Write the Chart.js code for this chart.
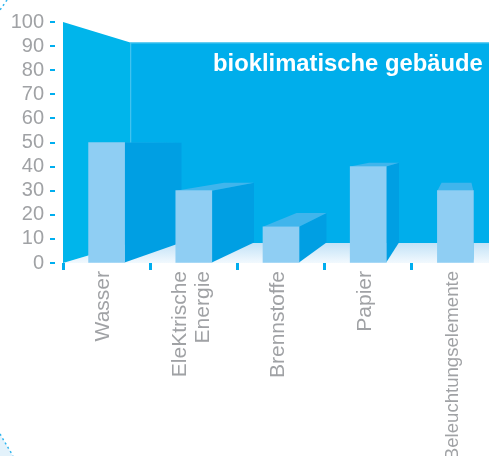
<!DOCTYPE html>
<html>
<head>
<meta charset="utf-8">
<script src="https://cdn.jsdelivr.net/npm/chart.js@4"></script>
<style>
  html, body { margin: 0; padding: 0; background: #fff; overflow: hidden; }
  canvas { display: block; }
</style>
</head>
<body>
<canvas id="chart" width="499" height="456"></canvas>
<script>
var categories = ['Wasser', ['EleKtrische', 'Energie'], 'Brennstoffe', 'Papier', 'Beleuchtungselemente'];
var values = [50, 30, 15, 40, 30];
var labelSizes = [21, 21, 21, 21, 18.6];
var titleText = 'bioklimatische gebäude';

// the picture is a real perspective: every back edge runs toward this point
var vanishX = 462, vanishY = 144, depth = 0.1686;

function back(x, y) {
    return [x + depth * (vanishX - x), y + depth * (vanishY - y)];
}

function poly(ctx, pts, fill) {
    ctx.beginPath();
    pts.forEach(function (p, i) {
        if (i == 0) ctx.moveTo(p[0], p[1]); else ctx.lineTo(p[0], p[1]);
    });
    ctx.closePath();
    ctx.fillStyle = fill;
    ctx.fill();
}

var room = {
    id: 'room',
    beforeDraw: function (chart) {
        // two line rotated labels sit off centre, pull them back onto their tick
        chart.scales.x.getLabelItems().forEach(function (item) {
            if (Array.isArray(item.label) && !item.moved) {
                item.options.translation[0] -= 11;
                item.moved = true;
            }
        });
    },
    beforeDatasetsDraw: function (chart) {
        var ctx = chart.ctx, a = chart.chartArea;
        var tl = back(a.left, a.top), bl = back(a.left, a.bottom);
        ctx.save();

        // floor
        var floor = ctx.createLinearGradient(0, bl[1], 0, a.bottom);
        floor.addColorStop(0, '#c2e2f7');
        floor.addColorStop(1, '#f2f9fe');
        poly(ctx, [[a.left, a.bottom], bl, [chart.width, bl[1]], [chart.width, a.bottom]], floor);

        // back and left wall
        poly(ctx, [tl, [chart.width, tl[1]], [chart.width, bl[1]], bl], '#00aeeb');
        poly(ctx, [[a.left, a.top], tl, bl, [a.left, a.bottom]], '#00b5eb');
        ctx.strokeStyle = '#45c3ef';
        ctx.lineWidth = 1;
        ctx.beginPath();
        ctx.moveTo(tl[0] + 0.5, tl[1]);
        ctx.lineTo(bl[0] + 0.5, bl[1]);
        ctx.moveTo(tl[0], tl[1] + 0.5);
        ctx.lineTo(chart.width, tl[1] + 0.5);
        ctx.stroke();

        // title on the back wall
        ctx.fillStyle = '#ffffff';
        ctx.font = 'bold 23.8px "Liberation Sans"';
        ctx.textAlign = 'left';
        ctx.textBaseline = 'alphabetic';
        ctx.fillText(titleText, 213, 71);

        // depth faces of the bars, the fronts come from the library afterwards
        chart.getDatasetMeta(0).data.forEach(function (bar) {
            var l = bar.x - bar.width / 2, r = bar.x + bar.width / 2;
            var tlb = back(l, bar.y), trb = back(r, bar.y), brb = back(r, bar.base);
            poly(ctx, [[r, bar.y], trb, brb, [r, bar.base]], '#009fe3');
            poly(ctx, [[l, bar.y], tlb, trb, [r, bar.y]], '#40b5ec');
        });

        // y tick marks stand off from the wall
        var y = chart.scales.y;
        ctx.fillStyle = '#00aeef';
        y.ticks.forEach(function (t, i) {
            ctx.fillRect(a.left - 13, Math.round(y.getPixelForTick(i)) - 1, 5, 2);
        });

        // corners of the dotted page circles that reach into the crop
        poly(ctx, [[0, 434], [13, 456], [0, 456]], '#e3f2fb');
        ctx.strokeStyle = '#2fb5ee';
        ctx.lineWidth = 1.5;
        ctx.setLineDash([2, 3]);
        ctx.beginPath();
        ctx.moveTo(0, 434);
        ctx.lineTo(13, 456);
        ctx.moveTo(7, 0);
        ctx.lineTo(0, 10);
        ctx.stroke();
        ctx.restore();
    }
};

function noOverflow(s) {
    s.paddingTop = 0;
    s.paddingBottom = 0;
    s.paddingLeft = 0;
    s.paddingRight = 0;
}

new Chart(document.getElementById('chart'), {
    type: 'bar',
    data: {
        labels: categories,
        datasets: [{
            data: values,
            backgroundColor: '#8fcef3',
            barThickness: 36
        }]
    },
    plugins: [room],
    options: {
        responsive: false,
        animation: false,
        layout: { padding: { top: 22, left: 0, right: 0, bottom: 0 } },
        plugins: { legend: { display: false }, tooltip: { enabled: false } },
        scales: {
            x: {
                afterFit: function (s) { s.height = 193; noOverflow(s); },
                border: { display: false },
                grid: { drawOnChartArea: false, tickColor: '#00aeef', tickLength: 7, tickWidth: 3 },
                ticks: {
                    color: '#a0a2a5',
                    font: function (c) {
                        return { family: '"Liberation Sans"', size: labelSizes[c.index], lineHeight: 1.1 };
                    },
                    minRotation: 90,
                    maxRotation: 90,
                    autoSkip: false,
                    labelOffset: -3,
                    padding: 1
                }
            },
            y: {
                min: 0,
                max: 100,
                afterFit: function (s) { s.width = 63; noOverflow(s); },
                border: { display: false },
                grid: { drawTicks: false, drawOnChartArea: false },
                ticks: {
                    stepSize: 10,
                    autoSkip: false,
                    color: '#a0a2a5',
                    font: { family: '"Liberation Sans"', size: 20 },
                    padding: 19
                }
            }
        }
    }
});
</script>
</body>
</html>
